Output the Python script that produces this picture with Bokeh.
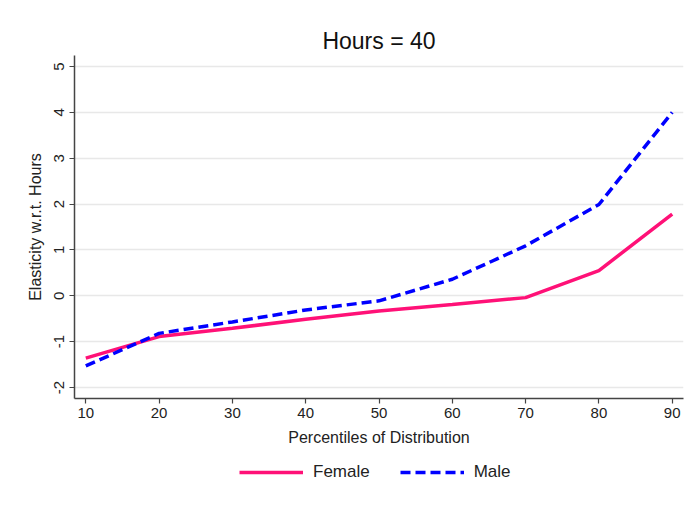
from bokeh.plotting import figure
from bokeh.models import Legend, LegendItem, FixedTicker, Range1d
from bokeh.layouts import column
from bokeh.embed import file_html
from bokeh.resources import INLINE

percentiles = [10, 20, 30, 40, 50, 60, 70, 80, 90]
female = [-1.36, -0.89, -0.71, -0.51, -0.33, -0.19, -0.04, 0.55, 1.78]
male = [-1.53, -0.82, -0.57, -0.31, -0.11, 0.36, 1.09, 1.99, 4.00]
y_ticks = [-2, -1, 0, 1, 2, 3, 4, 5]
x_ticks = [10, 20, 30, 40, 50, 60, 70, 80, 90]
series_labels = ["Female", "Male"]

FONT = "Liberation Sans"
FEMALE_COLOR = "#ff1177"
MALE_COLOR = "#0000ff"

p1 = figure(width=695, height=455,
            min_border_left=74, min_border_right=12, min_border_top=55, min_border_bottom=57,
            x_range=Range1d(8.46, 91.54), y_range=Range1d(-2.24, 5.24),
            output_backend="svg", toolbar_location=None,
            title="Hours = 40")
p1.background_fill_color = "white"
p1.border_fill_color = "white"
p1.outline_line_color = None

p1.title.align = "center"
p1.title.text_font = FONT
p1.title.text_font_size = "23px"
p1.title.text_font_style = "normal"
p1.title.text_color = "#111111"
p1.title.standoff = 4

p1.line(percentiles, female, line_color=FEMALE_COLOR, line_width=3.5)
p1.line(percentiles, male, line_color=MALE_COLOR, line_width=3.5, line_dash="10 5")

p1.xgrid.visible = False
p1.ygrid.grid_line_color = "#e8e8e8"
p1.ygrid.grid_line_width = 1.5
p1.ygrid.ticker = FixedTicker(ticks=y_ticks)

p1.xaxis.ticker = FixedTicker(ticks=x_ticks)
p1.yaxis.ticker = FixedTicker(ticks=y_ticks)
p1.yaxis.major_label_orientation = "vertical"
p1.yaxis.major_label_overrides = {t: str(t) for t in y_ticks}

for ax in (p1.xaxis[0], p1.yaxis[0]):
    ax.axis_line_color = "#444444"
    ax.axis_line_width = 1.5
    ax.major_tick_line_color = "#444444"
    ax.major_tick_line_width = 1.2
    ax.major_tick_out = 5
    ax.major_tick_in = 0
    ax.minor_tick_out = 0
    ax.minor_tick_in = 0
    ax.major_label_text_font = FONT
    ax.major_label_text_font_size = "15px"
    ax.major_label_text_color = "#222222"
    ax.axis_label_text_font = FONT
    ax.axis_label_text_font_size = "16px"
    ax.axis_label_text_font_style = "normal"
    ax.axis_label_text_color = "#222222"

p1.xaxis.axis_label = "Percentiles of Distribution"
p1.yaxis.axis_label = "Elasticity w.r.t. Hours"
p1.xaxis.major_label_standoff = 4
p1.xaxis.axis_label_standoff = 8
p1.yaxis.major_label_standoff = 5
p1.yaxis.axis_label_standoff = 8

# legend strip below the chart (key samples only; no data drawn here)
p2 = figure(width=695, height=53, min_border=0,
            x_axis_type=None, y_axis_type=None,
            x_range=Range1d(0, 1), y_range=Range1d(0, 1),
            output_backend="svg", toolbar_location=None)
p2.outline_line_color = None
p2.grid.visible = False
p2.background_fill_color = "white"
p2.border_fill_color = "white"

nan = float("nan")
lf = p2.line(x=[nan], y=[nan], line_color=FEMALE_COLOR, line_width=3.5)
lm = p2.line(x=[nan], y=[nan], line_color=MALE_COLOR, line_width=3.5, line_dash="10 5")

legend = Legend(items=[LegendItem(label=series_labels[0], renderers=[lf]),
                       LegendItem(label=series_labels[1], renderers=[lm])],
                orientation="horizontal", location=(165, 26))
legend.border_line_color = None
legend.background_fill_alpha = 0
legend.glyph_width = 64
legend.label_standoff = 10
legend.spacing = 30
legend.margin = 0
legend.padding = 8
legend.label_text_font = FONT
legend.label_text_font_size = "17px"
legend.label_text_color = "#222222"
p2.add_layout(legend, "center")

layout = column(p1, p2, spacing=0)
open("out.html", "w").write(file_html(layout, INLINE))
